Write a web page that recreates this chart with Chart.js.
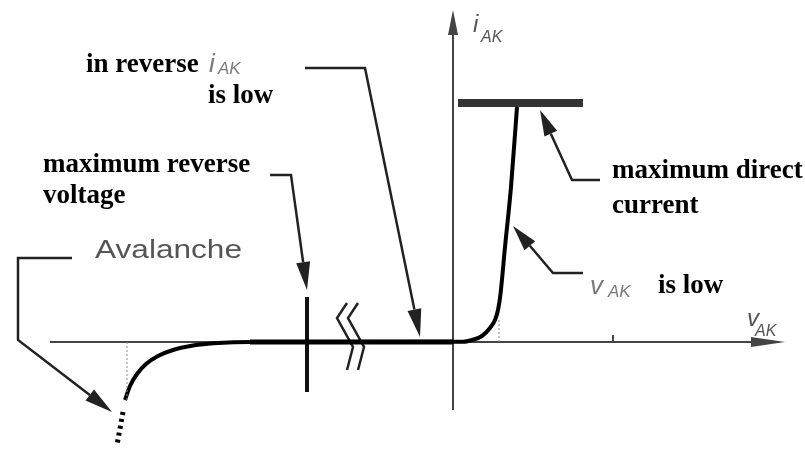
<!DOCTYPE html>
<html>
<head>
<meta charset="utf-8">
<script src="https://cdn.jsdelivr.net/npm/chart.js@4.4.1/dist/chart.umd.min.js"></script>
<style>
body { margin: 0; background: #fff; }
#wrap { width: 805px; height: 450px; }
</style>
</head>
<body>
<div id="wrap"><canvas id="diodo" width="805" height="450"></canvas></div>
<script>
// DATOS (vAK, iAK en unidades del dibujo)
const vReverse = [-32.8, -32.3, -31.6, -30.7, -29.5, -28, -26, -23.5, -20.3];
const iReverse = [-5.8, -4.4, -3.2, -2.2, -1.4, -0.8, -0.35, -0.1, 0];
const vForward = [0, 1.0, 1.9, 2.9, 3.7, 4.2, 4.5, 4.75, 5.2, 5.8, 6.4];
const iForward = [0, 0.02, 0.2, 0.6, 1.4, 2.2, 3.2, 4.8, 9.5, 15.5, 23.5];
const vFlat = [-20.3, 0];
const iFlat = [0, 0];
const vAvalanche = [-33.0, -33.6];
const iAvalanche = [-7.0, -10.3];
const vMaxCurrent = [0.5, 13.0];
const iMaxCurrent = [23.9, 23.9];
const vMaxReverse = [-14.6, -14.6];
const iMaxReverse = [4.5, -5.0];
const vBreakA = [-10.6, -11.6, -10.0, -10.6];
const vBreakB = [-9.5, -10.5, -8.9, -9.5];
const iBreak = [3.9, 2.4, -0.5, -2.8];
const vGuideAv = [-32.6, -32.6];
const iGuideAv = [0, -5.8];
const vGuideKnee = [4.6, 4.6];
const iGuideKnee = [0, 2.2];
const vTick = [16, 16];
const iTick = [0, 0.7];
// ----------------

const puntos = (xs, ys) => xs.map((x, k) => ({ x: x, y: ys[k] }));

const linea = (data, color, ancho, extra) => Object.assign({
    data: data,
    showLine: true,
    borderColor: color,
    borderWidth: ancho,
    pointRadius: 0,
    fill: false
}, extra || {});

const curva = puntos(vReverse.concat(vForward.slice(1)), iReverse.concat(iForward.slice(1)));

// texto con ancho opcional
const texto = (ctx, s, x, y, font, color, ancho) => {
    ctx.save();
    ctx.font = font;
    ctx.fillStyle = color;
    ctx.textBaseline = 'alphabetic';
    ctx.textAlign = 'left';
    if (ancho) {
        const w = ctx.measureText(s).width;
        ctx.translate(x, y);
        ctx.scale(ancho / w, 1);
        ctx.fillText(s, 0, 0);
    } else {
        ctx.fillText(s, x, y);
    }
    ctx.restore();
};

const flecha = (ctx, pts, color, ancho, largo, media) => {
    ctx.save();
    ctx.strokeStyle = color;
    ctx.fillStyle = color;
    ctx.lineWidth = ancho;
    ctx.lineJoin = 'miter';
    const n = pts.length;
    const a = pts[n - 2], b = pts[n - 1];
    const ang = Math.atan2(b[1] - a[1], b[0] - a[0]);
    const bx = b[0] - Math.cos(ang) * largo, by = b[1] - Math.sin(ang) * largo;
    ctx.beginPath();
    ctx.moveTo(pts[0][0], pts[0][1]);
    for (let k = 1; k < n - 1; k++) ctx.lineTo(pts[k][0], pts[k][1]);
    ctx.lineTo(bx, by);
    ctx.stroke();
    ctx.beginPath();
    ctx.moveTo(b[0], b[1]);
    ctx.lineTo(bx + Math.sin(ang) * media, by - Math.cos(ang) * media);
    ctx.lineTo(bx - Math.sin(ang) * media, by + Math.cos(ang) * media);
    ctx.closePath();
    ctx.fill();
    ctx.restore();
};

const ejes = {
    id: 'ejes',
    beforeDatasetsDraw(chart) {
        const ctx = chart.ctx;
        const X = v => chart.scales.x.getPixelForValue(v);
        const Y = i => chart.scales.y.getPixelForValue(i);
        flecha(ctx, [[X(-40.3), Y(0)], [X(33.2), Y(0)]], '#444', 2, 34, 5);
        flecha(ctx, [[X(0), Y(-6.8)], [X(0), Y(33.2)]], '#444', 2, 25, 5);
    },
    afterDatasetsDraw(chart) {
        const ctx = chart.ctx;
        const X = v => chart.scales.x.getPixelForValue(v);
        const Y = i => chart.scales.y.getPixelForValue(i);
        const P = (v, i) => [X(v), Y(i)];
        const negrita = 'bold 27px "Liberation Serif", "Times New Roman", serif';
        const gris = '#7a7a7a';
        const it = s => 'italic ' + s + 'px "Liberation Sans", Arial, sans-serif';

        // etiquetas de ejes
        texto(ctx, 'i', X(2.0), Y(31.0), it(24), '#555');
        texto(ctx, 'AK', X(2.8), Y(30.0), it(16), '#555');
        texto(ctx, 'v', X(29.4), Y(1.6), it(24), '#555');
        texto(ctx, 'AK', X(30.2), Y(0.6), it(16), '#555');

        // flechas de anotaciones
        flecha(ctx, [P(-14.8, 27.4), P(-8.8, 27.4), P(-3.3, 0.5)], '#222', 2.5, 28, 7);
        flecha(ctx, [P(-18.3, 16.7), P(-16.2, 16.7), P(-14.6, 5.2)], '#222', 2.5, 28, 7);
        flecha(ctx, [P(-38.1, 8.4), P(-43.5, 8.4), P(-43.5, 0.2), P(-34.1, -7.0)], '#222', 2.5, 28, 7);
        flecha(ctx, [P(14.7, 16.2), P(11.9, 16.2), P(8.7, 23.2)], '#222', 2.5, 26, 7);
        flecha(ctx, [P(13.0, 6.9), P(10.0, 6.9), P(6.0, 11.6)], '#222', 2.5, 26, 7);

        // textos
        texto(ctx, 'in reverse', X(-36.7), Y(27.0), negrita, '#000');
        texto(ctx, 'i', X(-24.4), Y(27.0), it(26), gris);
        texto(ctx, 'AK', X(-23.5), Y(26.8), it(17), gris);
        texto(ctx, 'is low', X(-24.5), Y(23.9), negrita, '#000');
        texto(ctx, 'maximum reverse', X(-41.0), Y(17.0), negrita, '#000');
        texto(ctx, 'voltage', X(-41.0), Y(13.9), negrita, '#000');
        texto(ctx, 'Avalanche', X(-35.8), Y(8.4), '26px "Liberation Sans", Arial, sans-serif', '#555', 147);
        texto(ctx, 'maximum direct', X(15.9), Y(16.4), negrita, '#000');
        texto(ctx, 'current', X(15.9), Y(12.9), negrita, '#000');
        texto(ctx, 'v', X(13.7), Y(4.8), it(26), gris);
        texto(ctx, 'AK', X(15.5), Y(4.5), it(17), gris);
        texto(ctx, 'is low', X(20.5), Y(4.9), negrita, '#000');
    }
};

const config = {
    type: 'scatter',
    data: {
        datasets: [
            linea(puntos(vGuideAv, iGuideAv), '#888', 1, { borderDash: [2, 2] }),
            linea(puntos(vGuideKnee, iGuideKnee), '#888', 1, { borderDash: [2, 2] }),
            linea(puntos(vTick, iTick), '#444', 2),
            linea(curva, '#000', 4, { cubicInterpolationMode: 'monotone' }),
            linea(puntos(vFlat, iFlat), '#000', 5),
            linea(puntos(vAvalanche, iAvalanche), '#000', 5, { borderDash: [3, 4] }),
            linea(puntos(vMaxCurrent, iMaxCurrent), '#333', 8),
            linea(puntos(vMaxReverse, iMaxReverse), '#111', 4),
            linea(puntos(vBreakA, iBreak), '#222', 2.5),
            linea(puntos(vBreakB, iBreak), '#222', 2.5)
        ]
    },
    options: {
        responsive: false,
        animation: false,
        layout: { padding: 0 },
        plugins: { legend: { display: false }, tooltip: { enabled: false } },
        scales: {
            x: { type: 'linear', display: false, min: -45.3, max: 35.2 },
            y: { type: 'linear', display: false, min: -10.8, max: 34.2 }
        }
    },
    plugins: [ejes]
};

const grafico = new Chart(document.getElementById('diodo'), config);
</script>
</body>
</html>
